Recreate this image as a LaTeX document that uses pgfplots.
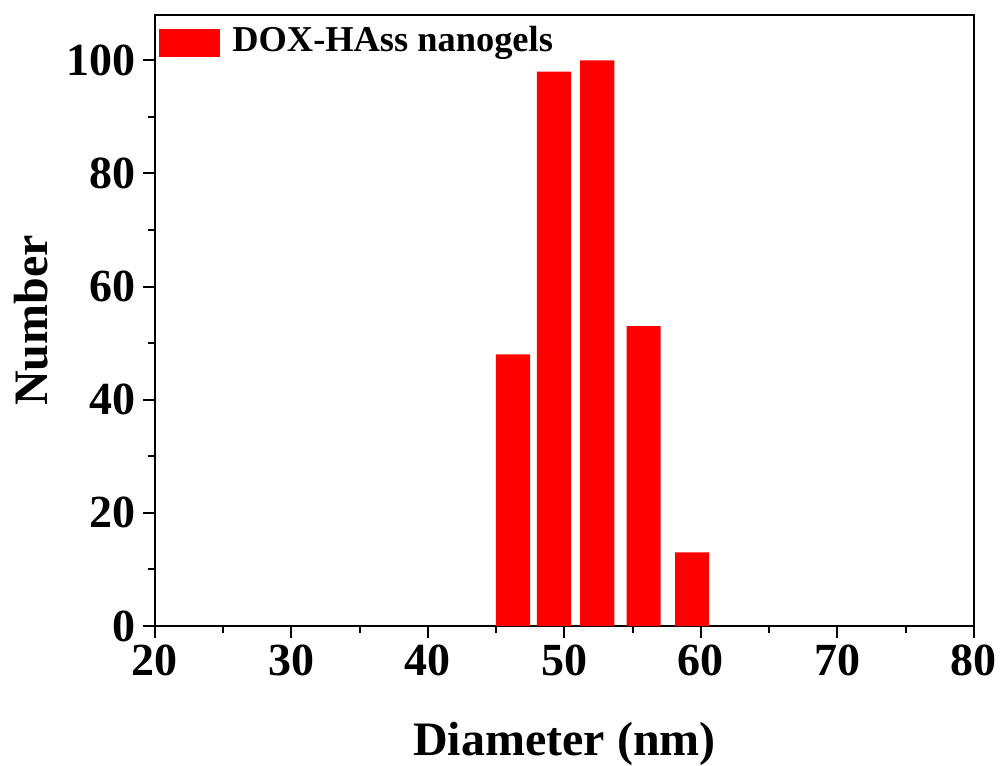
\documentclass[border=0pt]{standalone}
\usepackage{fontspec}
\setmainfont{Liberation Serif}
\usepackage{pgfplots}
\pgfplotsset{compat=1.18}
\begin{document}
\begin{tikzpicture}
\begin{axis}[
  name=ax,
  scale only axis,
  width=409.5pt, height=305.5pt,
  xmin=20, xmax=80, ymin=0, ymax=108,
  xtick={20,30,...,80}, ytick={0,20,...,100},
  minor x tick num=1, minor y tick num=1,
  xtick pos=bottom, ytick pos=left,
  tick align=outside,
  major tick length=6pt, minor tick length=3.5pt,
  every tick/.style={black, line width=1pt},
  axis line style={line width=1pt},
  /pgf/number format/assume math mode=true,
  tick label style={font=\fontsize{23}{23}\selectfont\bfseries},
  label style={font=\fontsize{24}{24}\selectfont\bfseries},
  xlabel={Diameter (nm)},
  ylabel={Number},
  xlabel style={at={(axis description cs:0.5,-0.193)}, anchor=center},
  ylabel style={at={(axis description cs:-0.1514,0.5)}, anchor=center},
  legend style={at={(0,1)}, yshift=-1.5pt, anchor=north west, draw=none, fill=none,
    font=\fontsize{18.2}{18.2}\selectfont\bfseries, inner sep=2pt,
    legend cell align=left},
  ybar, bar width=2.5,
]
\addplot[fill=red, draw=none,
  legend image code/.code={\fill[red] (1.5pt,-8pt) rectangle (32pt,6pt); \path (36pt,0pt);}] coordinates {
  (46.23,48) (49.23,98) (52.4,100) (55.8,53) (59.35,13)
};
\addlegendentry{DOX-HAss nanogels}
\end{axis}
\pgfresetboundingbox
\path[use as bounding box] ([shift={(-77.5pt,-70pt)}]ax.south west) rectangle ([shift={(14pt,7.5pt)}]ax.north east);
\end{tikzpicture}
\end{document}
